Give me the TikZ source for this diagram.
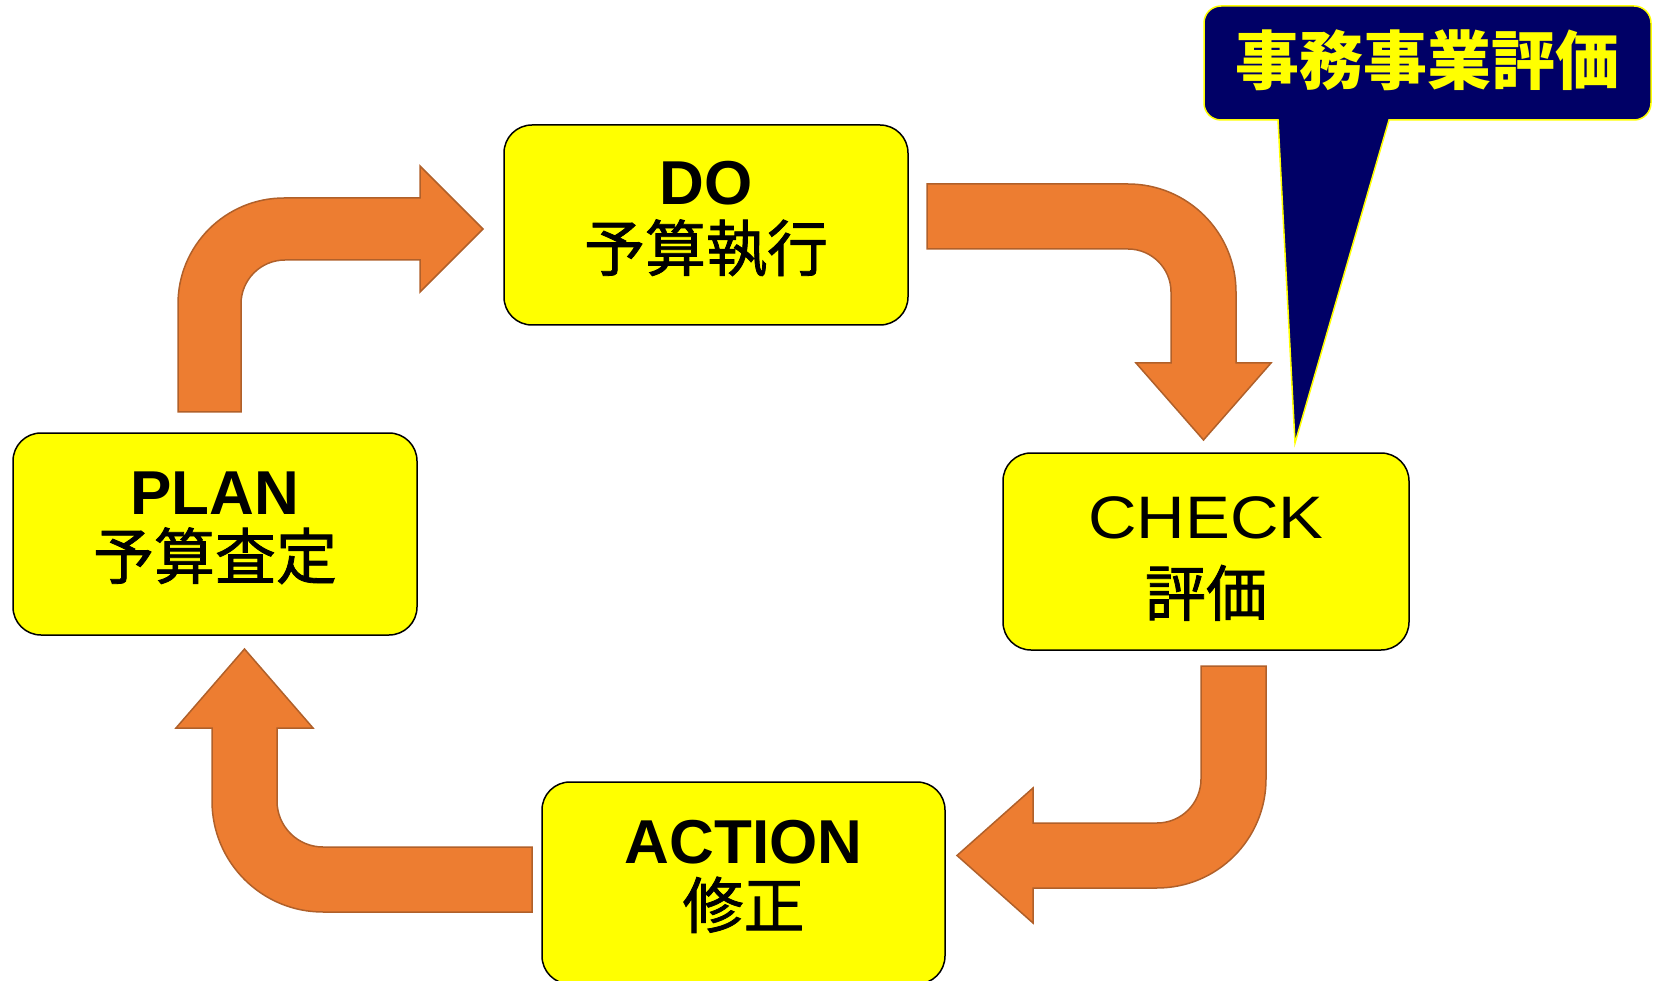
\documentclass[tikz,border=0pt]{standalone}
\usepackage{fontspec}
\usepackage{graphicx}
\setmainfont{Liberation Sans}
\newfontfamily\cjk{Noto Sans CJK JP}
\newfontfamily\cjkmid{Noto Sans CJK JP}[FakeBold=1.3]
\definecolor{boxyellow}{HTML}{FFFF00}
\definecolor{arroworange}{HTML}{ED7D31}
\definecolor{arrowedge}{HTML}{B0602A}
\definecolor{callnavy}{HTML}{000066}
\tikzset{
  box/.style={draw=black, line width=1.5pt, fill=boxyellow, rounded corners=28pt, inner sep=0pt},
  bent/.style={fill=arroworange, draw=arrowedge, line width=1.5pt, line join=miter},
  en/.style={anchor=base, inner sep=0pt, font=\fontsize{62pt}{70pt}\selectfont\bfseries},
  enreg/.style={anchor=base, inner sep=0pt, font=\fontsize{60pt}{70pt}\selectfont},
  jp/.style={anchor=base, inner sep=0pt, font=\cjkmid\fontsize{61pt}{70pt}\selectfont},
  calltext/.style={anchor=base, inner sep=0pt, text=boxyellow, font=\cjk\bfseries\fontsize{64pt}{70pt}\selectfont},
}
\begin{document}
\begin{tikzpicture}[x=1pt,y=-1pt]
\useasboundingbox (0,0) rectangle (1660,981);
\clip (0,0) rectangle (1660,981);
% boxes
\node[box, minimum width=404pt, minimum height=202pt] (plan) at (215,534) {};
\node[box, minimum width=404pt, minimum height=200pt] (do) at (706,225) {};
\node[box, minimum width=406pt, minimum height=197pt] (check) at (1206,551.5) {};
\node[box, minimum width=403pt, minimum height=202pt] (action) at (743.5,883) {};
% texts
\node[en] (plan-en) at (215,514) {PLAN};
\node[jp] (plan-jp) at (215,579) {予算査定};
\node[en] (do-en) at (706,205) {DO};
\node[jp] (do-jp) at (706,271) {予算執行};
\node[enreg] (check-en) at (1206,538) {\scalebox{1.12}[1]{CHECK}};
\node[jp] (check-jp) at (1206,616) {評価};
\node[en] (action-en) at (743.5,863) {ACTION};
\node[jp] (action-jp) at (743.5,928) {修正};
% bent arrows
% PLAN -> DO
\draw[bent] (178,412) -- (178,304) .. controls (178,245.5) and (225.5,198) .. (284,198)
  -- (420,198) -- (420,166) -- (483,229) -- (420,292) -- (420,260) -- (285,260)
  .. controls (260.7,260) and (241,279.7) .. (241,304) -- (241,412) -- cycle;
% DO -> CHECK
\draw[bent] (927,184) -- (1128,184) .. controls (1187.6,184) and (1236,232.4) .. (1236,292)
  -- (1236,363) -- (1271,363) -- (1203.5,440) -- (1136,363) -- (1171,363) -- (1171,292)
  .. controls (1171,268.3) and (1151.7,249) .. (1128,249) -- (927,249) -- cycle;
% CHECK -> ACTION
\draw[bent] (1201,666) -- (1266,666) -- (1266,779) .. controls (1266,839.2) and (1217.2,888) .. (1157,888)
  -- (1033,888) -- (1033,923) -- (957,855.5) -- (1033,788) -- (1033,823) -- (1157,823)
  .. controls (1181.3,823) and (1201,803.3) .. (1201,779) -- cycle;
% ACTION -> PLAN
\draw[bent] (532,847) -- (323,847) .. controls (297.6,847) and (277,826.4) .. (277,801)
  -- (277,728) -- (313,728) -- (244.5,649) -- (176,728) -- (212,728) -- (212,801)
  .. controls (212,862.3) and (261.7,912) .. (323,912) -- (532,912) -- cycle;
% callout
\draw[fill=callnavy, draw=boxyellow, line width=1.5pt, line join=miter]
  (1221,6) -- (1634,6) .. controls (1643.4,6) and (1651,13.6) .. (1651,23)
  -- (1651,103) .. controls (1651,112.4) and (1643.4,120) .. (1634,120)
  -- (1389,120) -- (1295,443) -- (1278,120) -- (1221,120)
  .. controls (1211.6,120) and (1204,112.4) .. (1204,103)
  -- (1204,23) .. controls (1204,13.6) and (1211.6,6) .. (1221,6) -- cycle;
\node[calltext] (callout) at (1427.5,85) {事務事業評価};
\end{tikzpicture}
\end{document}
